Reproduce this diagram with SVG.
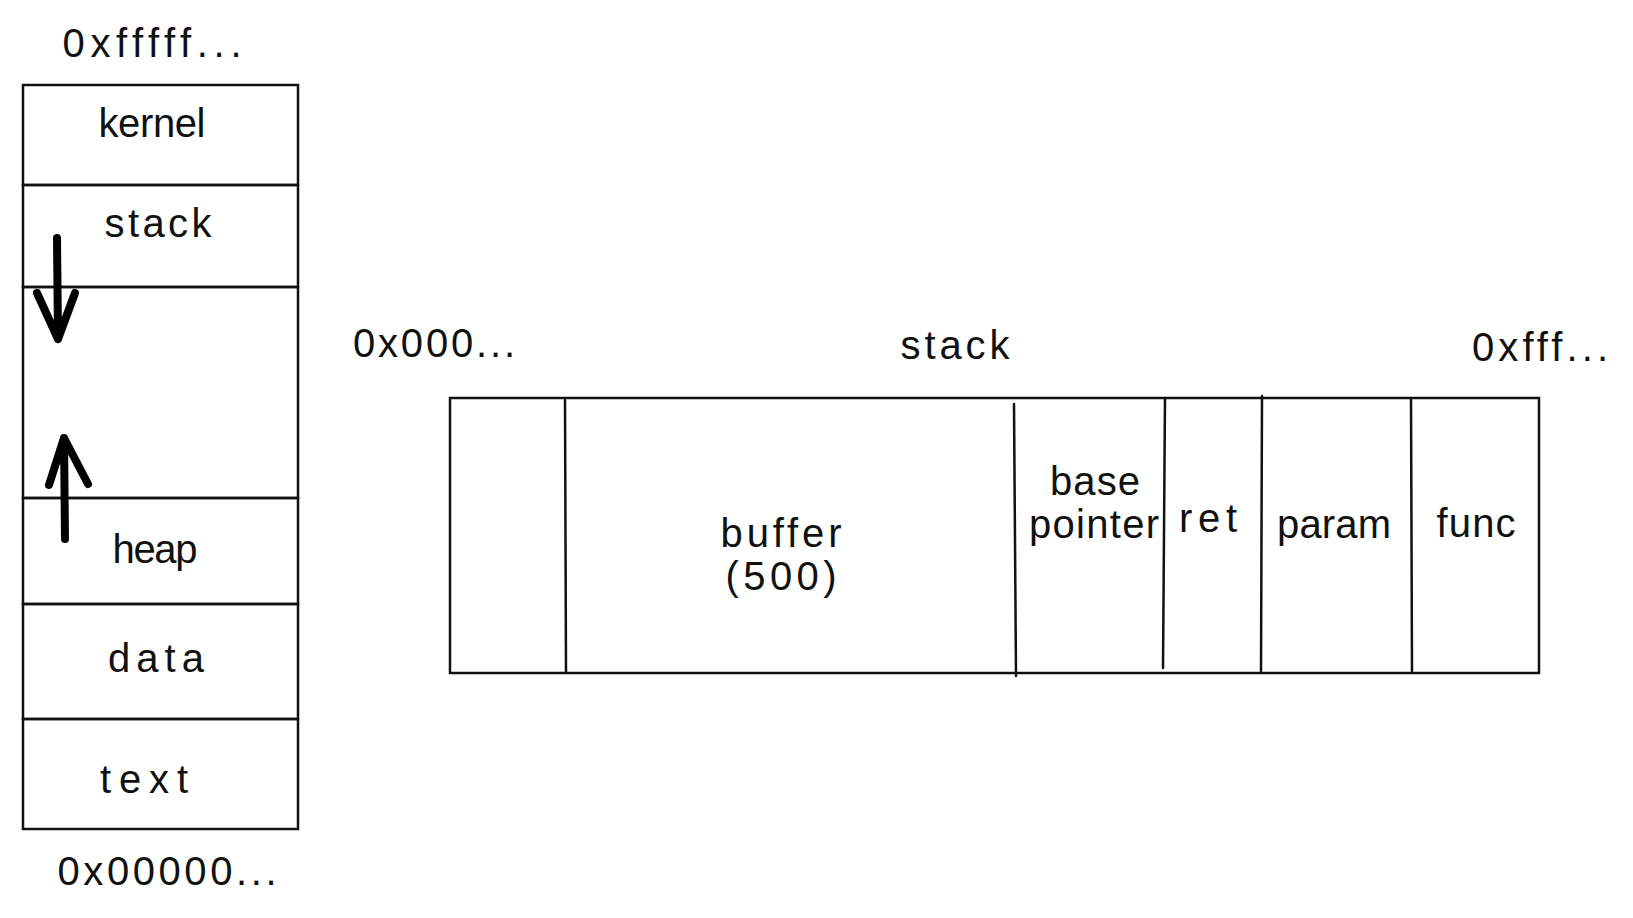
<svg xmlns="http://www.w3.org/2000/svg" width="1633" height="918" viewBox="0 0 1633 918">
<style>
.ln{stroke:#111111;stroke-width:2.5;fill:none;stroke-linecap:round}
.t{font-family:"Liberation Sans","DejaVu Sans",sans-serif;font-size:40px;fill:#111111;text-anchor:middle}
.ar{stroke:#000000;stroke-width:8;fill:none;stroke-linecap:round;stroke-linejoin:round}
</style>
<rect width="1633" height="918" fill="#ffffff"/>
<g id="memory-layout">
  <g id="addr-high"><text class="t" x="152" y="57" textLength="179">0xfffff...</text></g>
  <g id="kernel">
    <rect class="ln" x="23" y="85" width="275" height="100"/>
    <text class="t" x="152" y="137" textLength="107">kernel</text>
  </g>
  <g id="stack-seg">
    <rect class="ln" x="23" y="185" width="275" height="102"/>
    <text class="t" x="158" y="237" textLength="107">stack</text>
  </g>
  <g id="free-seg">
    <rect class="ln" x="23" y="287" width="275" height="211"/>
  </g>
  <g id="heap">
    <rect class="ln" x="23" y="498" width="275" height="106"/>
    <text class="t" x="155" y="563" textLength="85">heap</text>
  </g>
  <g id="data">
    <rect class="ln" x="23" y="604" width="275" height="115"/>
    <text class="t" x="156" y="672" textLength="96">data</text>
  </g>
  <g id="text-seg">
    <rect class="ln" x="23" y="719" width="275" height="110"/>
    <text class="t" x="144" y="793" textLength="88">text</text>
  </g>
  <g id="addr-low"><text class="t" x="167" y="885" textLength="219">0x00000...</text></g>
</g>
<g id="connectors">
  <path class="ar" d="M57 238 L58 339 M37 293 L58 339 L75 293"/>
  <path class="ar" d="M65 539 L64 438 M49 485 L64 438 L88 484"/>
</g>
<g id="stack-frame">
  <g id="label-low"><text class="t" x="434" y="357" textLength="162">0x000...</text></g>
  <g id="label-stack"><text class="t" x="955" y="359" textLength="109">stack</text></g>
  <g id="label-high"><text class="t" x="1540" y="361" textLength="136">0xfff...</text></g>
  <g id="frame-outline"><rect class="ln" x="450" y="398" width="1089" height="275"/></g>
  <g id="slot-empty"><line class="ln" x1="565" y1="400" x2="566" y2="672"/></g>
  <g id="slot-buffer">
    <line class="ln" x1="1014" y1="404" x2="1016" y2="676"/>
    <text class="t" x="781" y="547" textLength="121">buffer</text>
    <text class="t" x="781" y="590" textLength="111">(500)</text>
  </g>
  <g id="slot-base">
    <line class="ln" x1="1165" y1="398" x2="1163" y2="668"/>
    <text class="t" x="1095" y="495" textLength="90">base</text>
    <text class="t" x="1094" y="538" textLength="130">pointer</text>
  </g>
  <g id="slot-ret">
    <line class="ln" x1="1262" y1="396" x2="1261" y2="671"/>
    <text class="t" x="1208" y="532" textLength="58">ret</text>
  </g>
  <g id="slot-param">
    <line class="ln" x1="1411" y1="398" x2="1412" y2="671"/>
    <text class="t" x="1334" y="538" textLength="114">param</text>
  </g>
  <g id="slot-func">
    <text class="t" x="1476" y="537" textLength="79">func</text>
  </g>
</g>
</svg>
